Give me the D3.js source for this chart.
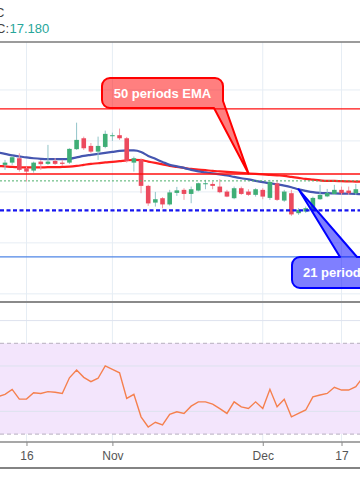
<!DOCTYPE html>
<html><head><meta charset="utf-8">
<script src="https://cdn.jsdelivr.net/npm/d3@7/dist/d3.min.js"></script>
<style>html,body{margin:0;padding:0;background:#fff;overflow:hidden}svg{display:block}</style>
</head><body><div id="chart"></div>
<script>
// ---- data (daily candles, index 0..49) ----
const opens  = [17.265,17.287,17.330,17.232,17.209,17.297,17.275,17.304,17.287,17.287,
                17.419,17.526,17.451,17.395,17.441,17.546,17.556,17.526,17.287,17.314,
                17.059,16.895,16.938,16.877,16.990,17.020,16.980,17.013,17.075,17.078,
                17.052,17.003,16.938,17.036,17.003,16.971,17.020,16.941,17.083,16.915,
                16.987,16.791,16.807,16.824,16.928,16.956,16.980,17.020,17.013,16.987];
const highs  = [17.314,17.353,17.379,17.248,17.297,17.314,17.461,17.330,17.314,17.428,
                17.679,17.542,17.480,17.542,17.601,17.581,17.621,17.539,17.346,17.330,
                17.069,17.000,16.948,17.020,17.049,17.036,17.052,17.091,17.118,17.101,
                17.125,17.020,17.052,17.052,17.026,17.036,17.036,17.118,17.118,17.020,
                17.020,16.840,16.856,16.954,17.069,17.029,17.069,17.052,17.052,17.078];
const lows   = [17.216,17.265,17.199,17.101,17.189,17.216,17.265,17.265,17.255,17.275,
                17.412,17.412,17.382,17.314,17.428,17.500,17.510,17.287,17.199,16.987,
                16.863,16.856,16.840,16.866,16.961,16.922,16.889,17.005,17.026,17.026,
                16.987,16.948,16.928,16.971,16.961,16.954,16.928,16.922,16.912,16.902,
                16.765,16.775,16.794,16.814,16.922,16.948,16.971,16.971,16.971,16.971];
const closes = [17.287,17.340,17.216,17.199,17.287,17.272,17.297,17.275,17.275,17.422,
                17.510,17.428,17.395,17.451,17.569,17.556,17.526,17.304,17.330,17.059,
                16.887,16.928,16.877,16.995,17.015,16.980,17.026,17.085,17.085,17.059,
                16.997,16.954,17.036,16.980,16.971,17.026,16.954,17.098,16.922,17.003,
                16.779,16.824,16.840,16.941,16.971,16.990,17.020,16.987,16.987,17.026];
// indicator series run from index -1 to 50 (edges extend past the visible area)
const lineStart = -1;
const ema21 = [17.385,
               17.373,17.358,17.348,17.338,17.330,17.324,17.321,17.321,17.321,17.324,
               17.338,17.353,17.363,17.373,17.382,17.392,17.402,17.407,17.407,17.392,
               17.353,17.324,17.294,17.265,17.250,17.235,17.216,17.201,17.191,17.181,
               17.172,17.162,17.147,17.134,17.123,17.108,17.095,17.085,17.074,17.062,
               17.046,17.025,17.010,16.997,16.990,16.987,16.985,16.983,16.982,16.980,
               16.978];
const ema50 = [17.255,
               17.250,17.245,17.242,17.240,17.240,17.240,17.242,17.242,17.245,17.248,
               17.255,17.265,17.275,17.281,17.289,17.294,17.301,17.309,17.314,17.311,
               17.297,17.284,17.270,17.255,17.245,17.235,17.225,17.219,17.213,17.206,
               17.201,17.196,17.191,17.186,17.181,17.176,17.172,17.167,17.162,17.157,
               17.147,17.137,17.127,17.120,17.113,17.108,17.108,17.105,17.103,17.101,
               17.099];
const rsi = [46.5,
             47.5,49.7,45.4,45.4,48.2,47.9,48.7,48.4,47.9,54.8,
             58.2,55.0,53.1,54.6,60.0,58.5,57.0,45.7,47.5,37.6,
             33.1,35.2,34.0,38.7,39.8,39.1,42.3,44.2,44.2,43.2,
             41.2,39.1,44.2,42.0,41.3,44.2,41.3,49.7,42.0,45.3,
             37.6,39.1,40.6,46.4,47.2,47.9,50.6,49.4,49.4,50.9,
             55.1];
const tickIndex  = [3, 15, 36, 47];
const tickLabels = ["16", "Nov", "Dec", "17"];
const priceGrid = [16, 16.5, 17, 17.5, 18];
const rsiGrid   = [40, 60, 80];
const rsiBand   = [30, 70];
const levelPrices = [17.814, 17.176, 17.108, 16.819, 16.363];
const ema50Label = "50 periods EMA";
const ema21Label = "21 periods EMA";
const legendTitle = "Silver, 1D, TVC";
const legendOHL = "O:16.987 H:17.078 L:16.971 C:";
const lastClose = "17.180";

// ---- layout ----
const W = 360, H = 504;
const paneTop = 42, paneSep = 302, axisY = 442, bottomY = 468;
const svg = d3.select("#chart").append("svg").attr("width", W).attr("height", H)
  .style("font-family", "'Liberation Sans', Arial, sans-serif");
svg.append("rect").attr("width", W).attr("height", H).attr("fill", "#fff");

const x = d3.scaleLinear().domain([0, 49]).range([5, 355.84]);
const y = d3.scaleLinear().domain([15.92, 18.48]).range([paneSep, paneTop - 1]);
const yr = d3.scaleLinear().domain([26.5, 88.2]).range([axisY, paneSep]);

const defs = svg.append("defs");
defs.append("clipPath").attr("id", "mainClip").append("rect")
  .attr("x", 0).attr("y", paneTop).attr("width", W).attr("height", paneSep - paneTop);
defs.append("clipPath").attr("id", "rsiClip").append("rect")
  .attr("x", 0).attr("y", paneSep).attr("width", W).attr("height", axisY - paneSep);

const gridColor = "#e6edf4";
// vertical grid
svg.append("g").selectAll("line").data(tickIndex).join("line")
  .attr("x1", d => x(d)).attr("x2", d => x(d))
  .attr("y1", paneTop).attr("y2", axisY)
  .attr("stroke", gridColor).attr("stroke-width", 1);
// horizontal grid main
svg.append("g").selectAll("line").data(priceGrid).join("line")
  .attr("x1", 0).attr("x2", W).attr("y1", d => y(d)).attr("y2", d => y(d))
  .attr("stroke", gridColor).attr("stroke-width", 1);

// RSI band
const rsiG = svg.append("g").attr("clip-path", "url(#rsiClip)");
rsiG.append("rect").attr("x", 0).attr("width", W)
  .attr("y", yr(rsiBand[1])).attr("height", yr(rsiBand[0]) - yr(rsiBand[1]))
  .attr("fill", "#f3e5fc");
rsiG.selectAll("line.g").data(rsiGrid).join("line").attr("class", "g")
  .attr("x1", 0).attr("x2", W).attr("y1", d => yr(d)).attr("y2", d => yr(d))
  .attr("stroke", "#dde2ee").attr("stroke-width", 1);
rsiG.selectAll("line.b").data(rsiBand).join("line").attr("class", "b")
  .attr("x1", 0).attr("x2", W).attr("y1", d => yr(d)).attr("y2", d => yr(d))
  .attr("stroke", "#c4bccb").attr("stroke-width", 1.3).attr("stroke-dasharray", "4,3");
rsiG.append("path").datum(rsi)
  .attr("d", d3.line().x((d, i) => x(i + lineStart)).y(d => yr(d)))
  .attr("fill", "none").attr("stroke", "#f5804e").attr("stroke-width", 1.4);

// main pane
const mainG = svg.append("g").attr("clip-path", "url(#mainClip)");
const lineGen = d3.line().x((d, i) => x(i + lineStart)).y(d => y(d)).curve(d3.curveMonotoneX);
mainG.append("path").datum(ema50).attr("d", lineGen)
  .attr("fill", "none").attr("stroke", "#ff1f1f").attr("stroke-width", 2.2);
mainG.append("path").datum(ema21).attr("d", lineGen)
  .attr("fill", "none").attr("stroke", "#4556b0").attr("stroke-width", 2.2);

// candles
const upBody = "#3fae76", dnBody = "#ec4a5e", upWick = "#92c4c9", dnWick = "#f29ba7";
const cg = mainG.append("g");
const idx = d3.range(opens.length);
cg.selectAll("line").data(idx).join("line")
  .attr("x1", i => x(i)).attr("x2", i => x(i))
  .attr("y1", i => y(highs[i])).attr("y2", i => y(lows[i]))
  .attr("stroke", i => closes[i] >= opens[i] ? upWick : dnWick).attr("stroke-width", 1);
cg.selectAll("rect").data(idx).join("rect")
  .attr("x", i => x(i) - 2.3).attr("width", 4.6)
  .attr("y", i => y(Math.max(opens[i], closes[i])))
  .attr("height", i => Math.max(1, Math.abs(y(opens[i]) - y(closes[i]))))
  .attr("fill", i => closes[i] >= opens[i] ? upBody : dnBody);

// horizontal levels
const levelStyle = [
  {c: "#ff1010", w: 1.2, dash: null},
  {c: "#ff1010", w: 1.5, dash: null},
  {c: "#4caf6a", w: 1, dash: "2,2"},
  {c: "#1515f0", w: 2.4, dash: "4,2.5"},
  {c: "#4f86e6", w: 1.2, dash: null}
];
mainG.append("g").selectAll("line").data(levelPrices).join("line")
  .attr("x1", 0).attr("x2", W).attr("y1", d => y(d)).attr("y2", d => y(d))
  .attr("stroke", (d, i) => levelStyle[i].c).attr("stroke-width", (d, i) => levelStyle[i].w)
  .attr("stroke-dasharray", (d, i) => levelStyle[i].dash);

// callouts
function calloutRed(tx, ty) {
  const x0 = 102, x1 = 223, y0 = 78, y1 = 108, r = 8;
  const p = `M${x0 + r},${y0} H${x1 - r} A${r},${r} 0 0 1 ${x1},${y0 + r} V${y1 - 7}
    L${tx},${ty} L${x1 - 9},${y1} H${x0 + r} A${r},${r} 0 0 1 ${x0},${y1 - r}
    V${y0 + r} A${r},${r} 0 0 1 ${x0 + r},${y0} Z`;
  svg.append("path").attr("d", p).attr("fill", "rgba(255,0,0,0.5)")
    .attr("stroke", "#ff0000").attr("stroke-width", 2).attr("stroke-linejoin", "round");
  svg.append("text").attr("x", (x0 + x1) / 2).attr("y", 97.5).attr("text-anchor", "middle")
    .attr("fill", "#fff").attr("font-weight", "bold").attr("font-size", 13).text(ema50Label);
}
function calloutBlue(tx, ty) {
  const x0 = 292, x1 = 430, y0 = 257, y1 = 288, r = 8;
  const p = `M${x0 + r},${y0} H340 L${tx},${ty} L357,${y0} H${x1 - r}
    A${r},${r} 0 0 1 ${x1},${y0 + r} V${y1 - r} A${r},${r} 0 0 1 ${x1 - r},${y1}
    H${x0 + r} A${r},${r} 0 0 1 ${x0},${y1 - r} V${y0 + r} A${r},${r} 0 0 1 ${x0 + r},${y0} Z`;
  svg.append("path").attr("d", p).attr("fill", "rgba(0,0,255,0.5)")
    .attr("stroke", "#0000ff").attr("stroke-width", 2).attr("stroke-linejoin", "round");
  svg.append("text").attr("x", 303).attr("y", 277)
    .attr("fill", "#fff").attr("font-weight", "bold").attr("font-size", 13).text(ema21Label);
}
calloutRed(x(34), y(ema50[34 - lineStart]));
calloutBlue(x(41), y(ema21[41 - lineStart]));

// pane borders
svg.append("line").attr("x1", 0).attr("x2", W).attr("y1", paneTop).attr("y2", paneTop)
  .attr("stroke", "#7a7a7a").attr("stroke-width", 1.5);
svg.append("line").attr("x1", 0).attr("x2", W).attr("y1", paneSep).attr("y2", paneSep)
  .attr("stroke", "#8a8a8a").attr("stroke-width", 2);
svg.append("line").attr("x1", 0).attr("x2", W).attr("y1", bottomY).attr("y2", bottomY)
  .attr("stroke", "#5a5a5a").attr("stroke-width", 1.5);

// time axis
const axis = d3.axisBottom(x).tickValues(tickIndex)
  .tickFormat((d, i) => tickLabels[i]).tickSize(4).tickPadding(5);
const ag = svg.append("g").attr("transform", `translate(0,${axisY})`).call(axis);
ag.select(".domain").remove();
ag.append("line").attr("x1", 0).attr("x2", W).attr("stroke", "#8a8a8a").attr("stroke-width", 1.5);
ag.selectAll(".tick line").attr("stroke", "#8a8a8a");
ag.selectAll(".tick text").attr("fill", "#555").attr("font-size", 12)
  .attr("font-family", "'Liberation Sans', Arial, sans-serif");

// legend (clipped at left edge)
svg.append("text").attr("x", 4.5).attr("y", 17).attr("text-anchor", "end")
  .attr("font-size", 13).attr("fill", "#444").text(legendTitle);
svg.append("text").attr("x", 9).attr("y", 33).attr("text-anchor", "end")
  .attr("font-size", 13).attr("fill", "#444").text(legendOHL);
svg.append("text").attr("x", 9.5).attr("y", 33)
  .attr("font-size", 13).attr("fill", "#26a69a").text(lastClose);
</script></body></html>
